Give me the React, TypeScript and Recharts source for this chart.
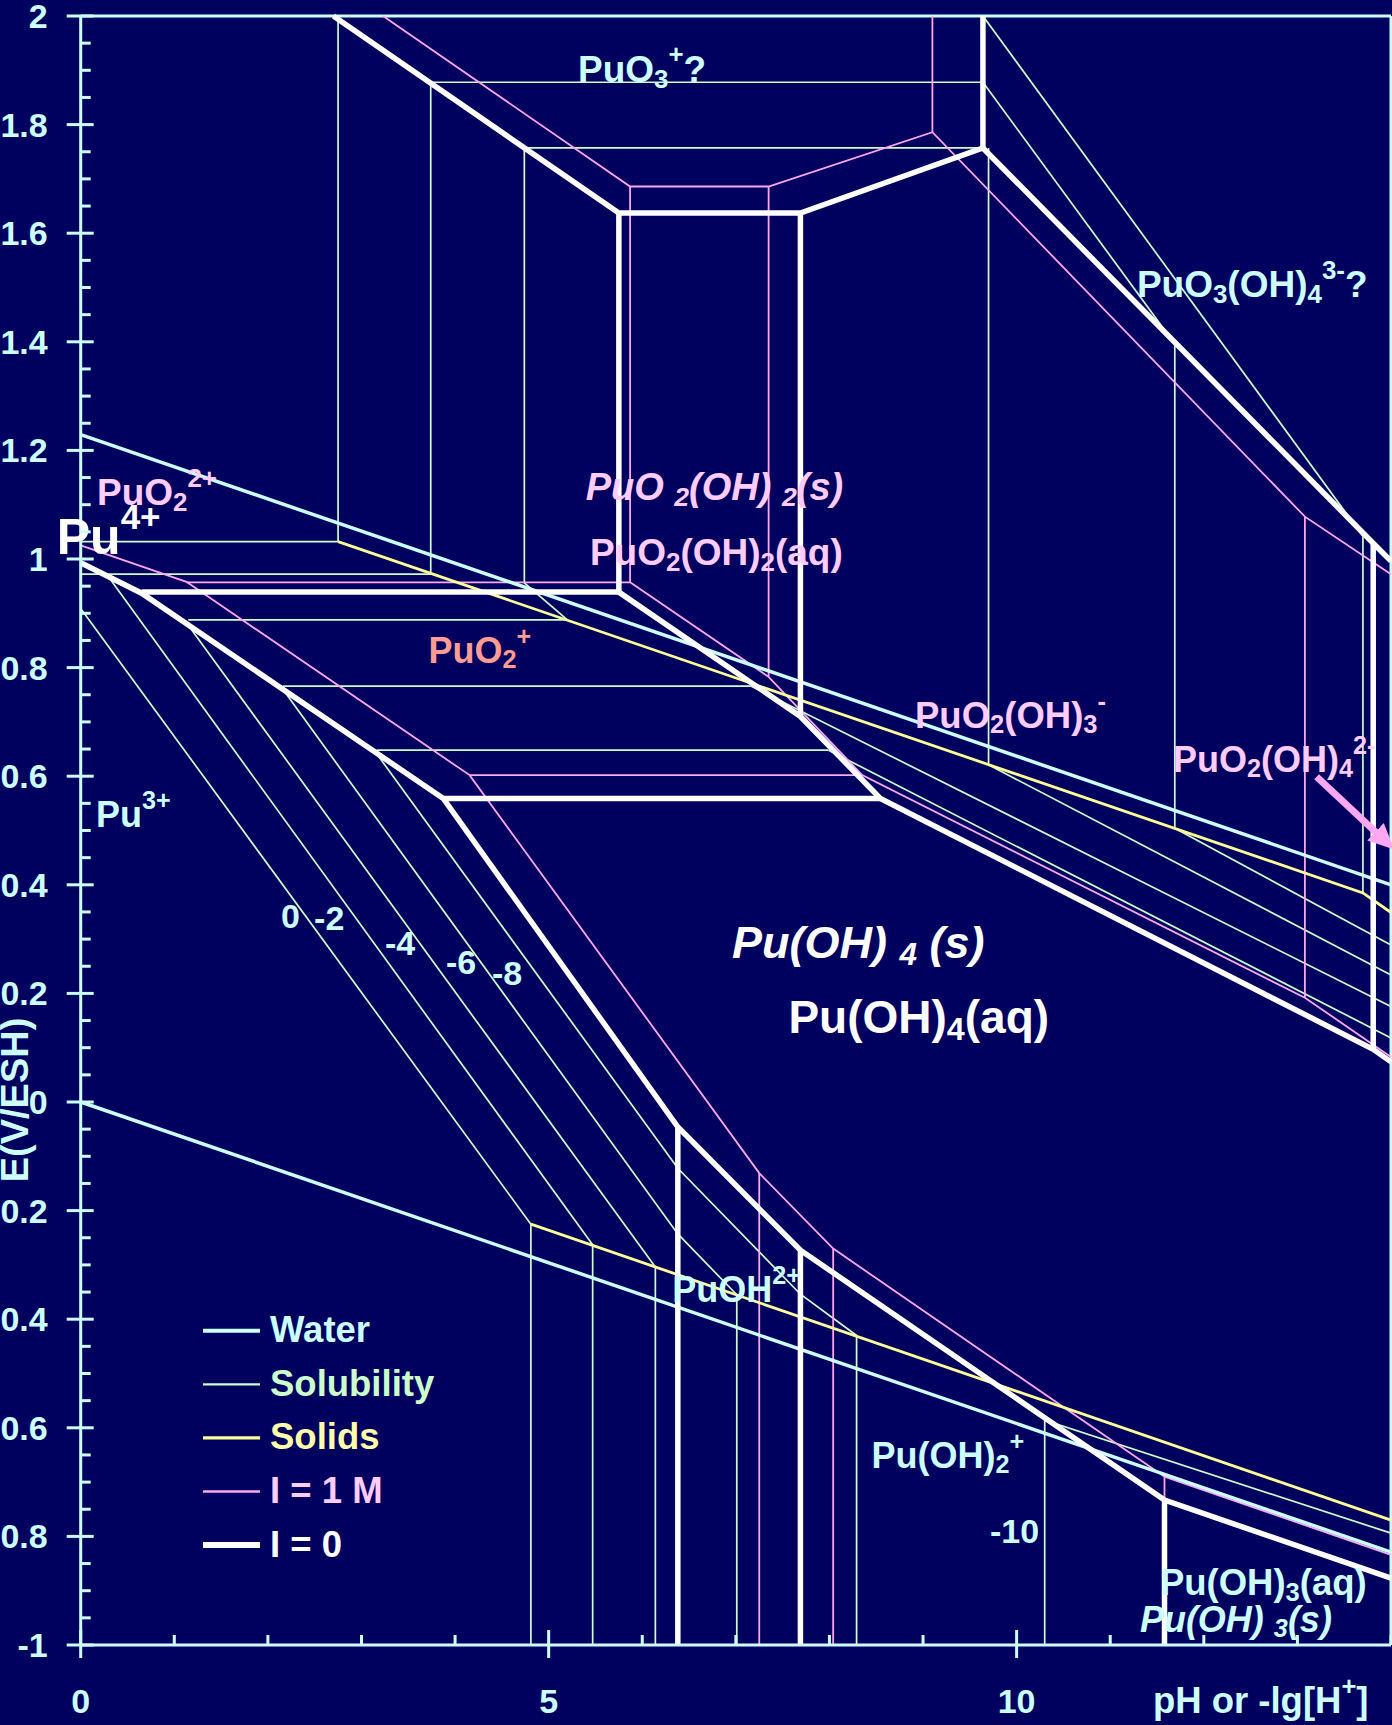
import React from 'react';
import { LineChart, Line, XAxis, YAxis, ReferenceLine, ReferenceDot, Legend } from 'recharts';

const W = 1392;
const H = 1725;
const BG = '#00005E';
const CYAN = '#CCFFFF';
const GREEN = '#CCFFCC';
const YELLOW = '#FFFF99';
const PINK = '#FFA8F2';
const PINK_TEXT = '#FFCCFF';
const SALMON = '#FF9C94';
const WHITE = '#FFFFFF';
const FONT = '"Liberation Sans", Arial, Helvetica, sans-serif';

// ---------- data (pH, E) ----------
// water stability lines
const WATER_O2 = [[0, 1.229], [14, 0.4]];
const WATER_H2 = [[0, 0], [14, -0.829]];

// I = 0 boundaries
const I0_PU4_PU3 = [[0, 0.993], [0.651, 0.937], [3.874, 0.559], [6.38, -0.046], [7.69, -0.273], [11.58, -0.733], [14, -0.877]];
const I0_PUO2_TOP = [[2.7, 2.0], [5.75, 1.637], [7.69, 1.637], [9.64, 1.757], [13.81, 1.029], [14, 0.996]];
const I0_PUO2_BOTTOM = [[5.75, 0.939], [7.69, 0.71], [8.544, 0.559], [13.81, 0.097], [14, 0.074]];
const I0_H_0939 = [[0.651, 0.939], [5.75, 0.939]];
const I0_H_0559 = [[3.874, 0.559], [8.544, 0.559]];
const I0_V_575 = [[5.75, 1.637], [5.75, 0.939]];
const I0_V_769_TOP = [[7.69, 1.637], [7.69, 0.71]];
const I0_V_964 = [[9.64, 2.0], [9.64, 1.757]];
const I0_V_1381 = [[13.81, 1.029], [13.81, 0.097]];
const I0_V_638 = [[6.38, -0.046], [6.38, -1]];
const I0_V_769_BOT = [[7.69, -0.273], [7.69, -1]];
const I0_V_1158 = [[11.58, -0.733], [11.58, -1]];

// I = 1 M boundaries
const I1_PU4_PU3 = [[0, 1.025], [1.13, 0.958], [4.155, 0.602], [7.25, -0.131], [8.04, -0.27], [11.58, -0.69], [14, -0.834]];
const I1_PUO2_TOP = [[3.23, 2.0], [5.87, 1.686], [7.35, 1.686], [9.1, 1.786], [13.08, 1.078], [14, 0.972]];
const I1_PUO2_BOTTOM = [[5.87, 0.957], [7.35, 0.783], [8.35, 0.602], [13.08, 0.192], [14, 0.083]];
const I1_H_0957 = [[1.13, 0.957], [5.87, 0.957]];
const I1_H_0602 = [[4.155, 0.602], [8.35, 0.602]];
const I1_V_587 = [[5.87, 1.686], [5.87, 0.957]];
const I1_V_735 = [[7.35, 1.686], [7.35, 0.783]];
const I1_V_910 = [[9.1, 2.0], [9.1, 1.786]];
const I1_V_1308 = [[13.08, 1.078], [13.08, 0.192]];
const I1_V_725 = [[7.25, -0.131], [7.25, -1]];
const I1_V_804 = [[8.04, -0.27], [8.04, -1]];
const I1_V_1158 = [[11.58, -0.69], [11.58, -0.733]];
const I1_ARROW = [[13.205, 0.599], [13.85, 0.495]];

// solubility lines (log c = 0 ... -10)
const SOL_H_1032 = [[0, 1.032], [2.75, 1.032]];
const SOL_V_275 = [[2.75, 2.0], [2.75, 1.032]];
const SOL_H_0972 = [[0, 0.972], [3.74, 0.972]];
const SOL_V_374 = [[3.74, 1.878], [3.74, 0.972]];
const SOL_H_1878 = [[3.74, 1.878], [9.64, 1.878]];
const SOL_V_474 = [[4.74, 1.757], [4.74, 0.956], [5.2, 0.888]];
const SOL_H_1757 = [[4.74, 1.757], [9.64, 1.757]];
const SOL_R1 = [[9.64, 2.0], [13.7, 1.042]];
const SOL_R2 = [[9.64, 1.878], [11.69, 1.396]];
const SOL_V_970 = [[9.7, 1.757], [9.7, 0.621]];
const SOL_V_1169 = [[11.69, 1.396], [11.69, 0.504]];
const SOL_V_1370 = [[13.7, 1.042], [13.7, 0.385]];
const SOL_H_0888 = [[1.15, 0.888], [5.2, 0.888]];
const SOL_H_0766 = [[2.16, 0.766], [7.16, 0.766]];
const SOL_H_0648 = [[3.16, 0.648], [7.99, 0.648]];
const SOL_FAN_A = [[7.16, 0.766], [14, 0.176]];
const SOL_FAN_B = [[7.99, 0.648], [14, 0.118]];
const SOL_FAN_C = [[9.7, 0.621], [14, 0.234]];
const SOL_FAN_D = [[11.69, 0.504], [14, 0.289]];
const SOL_L0 = [[0, 0.909], [4.81, -0.225], [4.81, -1]];
const SOL_L2 = [[0.314, 0.963], [5.47, -0.263], [5.47, -1]];
const SOL_L4 = [[1.15, 0.878], [6.14, -0.304], [6.14, -1]];
const SOL_L6 = [[2.16, 0.76], [6.38, -0.243], [7.01, -0.355], [7.01, -1]];
const SOL_L8 = [[3.16, 0.642], [6.38, -0.122], [7.69, -0.354], [8.29, -0.43], [8.29, -1]];
const SOL_L10 = [[14, -0.794], [10.3, -0.586], [10.3, -1]];

// solids
const SOLID_PUO2OH2 = [[2.75, 1.032], [13.7, 0.385], [14, 0.349]];
const SOLID_PUOH3 = [[4.81, -0.225], [14, -0.77]];

// ticks
const Y_MAJOR_TICKS = [-1, -0.8, -0.6, -0.4, -0.2, 0, 0.2, 0.4, 0.6, 0.8, 1, 1.2, 1.4, 1.6, 1.8, 2];
const X_TICKS = [0, 1, 2, 3, 4, 5, 6, 7, 8, 9, 10, 11, 12, 13, 14];
const X_LABELED = [0, 5, 10];

const Y_TICKS: number[] = [];
Y_MAJOR_TICKS.forEach((m, i) => {
  Y_TICKS.push(m);
  if (i < Y_MAJOR_TICKS.length - 1) {
    for (let k = 1; k < 4; k++) Y_TICKS.push(Math.round((m + k * 0.05) * 100) / 100);
  }
});

// ---------- styles ----------
const STYLES: Record<string, { stroke: string; width: number }> = {
  sol: { stroke: GREEN, width: 1.7 },
  i1: { stroke: PINK, width: 1.8 },
  solid: { stroke: YELLOW, width: 2.8 },
  water: { stroke: CYAN, width: 3.5 },
  i0: { stroke: WHITE, width: 5.5 },
};

const SOL_SET = [SOL_H_1032, SOL_V_275, SOL_H_0972, SOL_V_374, SOL_H_1878, SOL_V_474, SOL_H_1757, SOL_R1, SOL_R2,
  SOL_V_970, SOL_V_1169, SOL_V_1370, SOL_H_0888, SOL_H_0766, SOL_H_0648, SOL_FAN_A, SOL_FAN_B, SOL_FAN_C, SOL_FAN_D,
  SOL_L0, SOL_L2, SOL_L4, SOL_L6, SOL_L8, SOL_L10];
const I1_SET = [I1_PU4_PU3, I1_PUO2_TOP, I1_PUO2_BOTTOM, I1_H_0957, I1_H_0602, I1_V_587, I1_V_735, I1_V_910,
  I1_V_1308, I1_V_725, I1_V_804, I1_V_1158];
const SOLID_SET = [SOLID_PUO2OH2, SOLID_PUOH3];
const WATER_SET = [WATER_O2, WATER_H2];
const I0_SET = [I0_PU4_PU3, I0_PUO2_TOP, I0_PUO2_BOTTOM, I0_H_0939, I0_H_0559, I0_V_575, I0_V_769_TOP, I0_V_964,
  I0_V_1381, I0_V_638, I0_V_769_BOT, I0_V_1158];

const SERIES = [
  ...SOL_SET.map((d) => ({ d, kind: 'sol' })),
  ...I1_SET.map((d) => ({ d, kind: 'i1' })),
  ...SOLID_SET.map((d) => ({ d, kind: 'solid' })),
  ...WATER_SET.map((d) => ({ d, kind: 'water' })),
  ...I0_SET.map((d) => ({ d, kind: 'i0' })),
];

const toPts = (arr: number[][]) => arr.map(([x, y]) => ({ x, y }));

// ---------- annotations ----------
type Part = [string, string?];
type Lab = { x: number; y: number; size: number; color: string; italic?: boolean; parts: Part[]; rotate?: boolean; anchor?: string };

const LABELS: Lab[] = [
  { x: 5.313, y: 1.8785, size: 37, color: CYAN, parts: [['PuO'], ['3', 'sub'], ['+', 'sup'], ['?']] },
  { x: 11.285, y: 1.4825, size: 37, color: CYAN, parts: [['PuO'], ['3', 'sub'], ['(OH)'], ['4', 'sub'], ['3-', 'sup'], ['?']] },
  { x: 0.174, y: 1.0994, size: 37, color: PINK_TEXT, parts: [['PuO'], ['2', 'sub'], ['2+', 'sup']] },
  { x: -0.256, y: 1.0092, size: 50, color: WHITE, parts: [['Pu'], ['4+', 'sup']] },
  { x: 5.395, y: 1.1087, size: 38, color: PINK_TEXT, italic: true, parts: [['PuO '], ['2', 'sub'], ['(OH) '], ['2', 'sub'], ['(s)']] },
  { x: 5.441, y: 0.989, size: 37, color: PINK_TEXT, parts: [['PuO'], ['2', 'sub'], ['(OH)'], ['2', 'sub'], ['(aq)']] },
  { x: 3.717, y: 0.8085, size: 36, color: SALMON, parts: [['PuO'], ['2', 'sub'], ['+', 'sup']] },
  { x: 8.914, y: 0.6888, size: 36.5, color: PINK_TEXT, parts: [['PuO'], ['2', 'sub'], ['(OH)'], ['3', 'sub'], ['-', 'sup']] },
  { x: 11.67, y: 0.6077, size: 36, color: PINK_TEXT, parts: [['PuO'], ['2', 'sub'], ['(OH)'], ['4', 'sub'], ['2-', 'sup']] },
  { x: 0.163, y: 0.507, size: 36, color: CYAN, parts: [['Pu'], ['3+', 'sup']] },
  { x: 2.14, y: 0.3204, size: 34, color: CYAN, parts: [['0']] },
  { x: 2.494, y: 0.3168, size: 34, color: CYAN, parts: [['-2']] },
  { x: 3.251, y: 0.2707, size: 34, color: CYAN, parts: [['-4']] },
  { x: 3.903, y: 0.2357, size: 34, color: CYAN, parts: [['-6']] },
  { x: 4.394, y: 0.2155, size: 34, color: CYAN, parts: [['-8']] },
  { x: 9.715, y: -0.812, size: 34, color: CYAN, parts: [['-10']] },
  { x: 6.96, y: 0.265, size: 45, color: WHITE, italic: true, parts: [['Pu(OH) '], ['4', 'sub'], [' (s)']] },
  { x: 7.562, y: 0.127, size: 46, color: WHITE, parts: [['Pu(OH)'], ['4', 'sub'], ['(aq)']] },
  { x: 6.321, y: -0.3677, size: 36, color: CYAN, parts: [['PuOH'], ['2+', 'sup']] },
  { x: 8.449, y: -0.674, size: 36, color: CYAN, parts: [['Pu(OH)'], ['2', 'sub'], ['+', 'sup']] },
  { x: 11.531, y: -0.908, size: 36.5, color: CYAN, parts: [['Pu(OH)'], ['3', 'sub'], ['(aq)']] },
  { x: 11.317, y: -0.9755, size: 36, color: CYAN, italic: true, parts: [['Pu(OH) '], ['3', 'sub'], ['(s)']] },
  { x: 11.456, y: -1.125, size: 36.5, color: CYAN, parts: [['pH or -lg[H'], ['+', 'sup'], [']']] },
  { x: -0.56, y: 0.0037, size: 38, color: CYAN, rotate: true, anchor: 'middle', parts: [['E(V/ESH)']] },
];

const LEGEND_ITEMS = [
  { label: 'Water', kind: 'water', color: CYAN },
  { label: 'Solubility', kind: 'sol', color: GREEN },
  { label: 'Solids', kind: 'solid', color: '#FFFFAA' },
  { label: 'I = 1 M', kind: 'i1', color: PINK_TEXT },
  { label: 'I = 0', kind: 'i0', color: WHITE },
];

function renderParts(parts: Part[], size: number) {
  let cur = 0;
  return parts.map(([t, k], i) => {
    const target = k === 'sub' ? size * 0.15 : k === 'sup' ? -size * 0.5 : 0;
    const dy = target - cur;
    cur = target;
    return (
      <tspan key={i} dy={dy} fontSize={k ? size * 0.7 : size}>
        {t}
      </tspan>
    );
  });
}

const labelShape = (lab: Lab) => (p: any) => {
  const { cx, cy } = p;
  return (
    <text
      x={cx}
      y={cy}
      fill={lab.color}
      fontFamily={FONT}
      fontWeight="bold"
      fontStyle={lab.italic ? 'italic' : 'normal'}
      fontSize={lab.size}
      textAnchor={lab.anchor || 'start'}
      transform={lab.rotate ? `rotate(-90 ${cx} ${cy})` : undefined}
      style={{ whiteSpace: 'pre' }}
    >
      {renderParts(lab.parts, lab.size)}
    </text>
  );
};

const isMajorY = (v: number) => Y_MAJOR_TICKS.some((m) => Math.abs(m - v) < 1e-6);

const YTick = (props: any) => {
  const { x, y, payload } = props;
  const v = payload.value;
  const major = isMajorY(v);
  return (
    <g>
      <line x1={major ? x - 14 : x} x2={major ? x + 13 : x + 10} y1={y} y2={y} stroke={CYAN} strokeWidth={3} />
      {major && (
        <text x={x - 33} y={y + 12} textAnchor="end" fill={CYAN} fontSize={34} fontWeight="bold" fontFamily={FONT}>
          {String(Math.round(v * 100) / 100)}
        </text>
      )}
    </g>
  );
};

const XTick = (props: any) => {
  const { x, y, payload } = props;
  const v = payload.value;
  const major = X_LABELED.includes(v);
  return (
    <g>
      <line x1={x} x2={x} y1={major ? y - 15 : y - 10} y2={major ? y + 13 : y} stroke={CYAN} strokeWidth={3} />
      {major && (
        <text x={x} y={y + 68} textAnchor="middle" fill={CYAN} fontSize={34} fontWeight="bold" fontFamily={FONT}>
          {String(v)}
        </text>
      )}
    </g>
  );
};

const LegendContent = () => (
  <svg width={320} height={280} style={{ overflow: 'visible' }}>
    {LEGEND_ITEMS.map((it, i) => {
      const ly = 30.7 + i * 53.6;
      const st = STYLES[it.kind];
      return (
        <g key={it.label}>
          <line x1={13} x2={70} y1={ly} y2={ly} stroke={st.stroke} strokeWidth={it.kind === 'i0' ? 6 : st.width + 0.5} />
          <text x={80} y={ly + 11.5} fill={it.color} fontSize={36.5} fontWeight="bold" fontFamily={FONT}>
            {it.label}
          </text>
        </g>
      );
    })}
  </svg>
);

export default function App() {
  return (
    <div style={{ width: W, height: H, background: BG, position: 'relative', overflow: 'hidden' }}>
      <style>{'body{margin:0;background:#00005E;}'}</style>
      <svg width={0} height={0} style={{ position: 'absolute' }}>
        <defs>
          <marker id="pinkArrowHead" markerUnits="userSpaceOnUse" markerWidth={30} markerHeight={30} refX={2} refY={14} orient="auto">
            <path d="M0,2 L26,14 L0,26 Z" fill={PINK} />
          </marker>
        </defs>
      </svg>
      <LineChart width={W} height={H} margin={{ top: 16, right: 1, bottom: 0, left: 0 }}>
        <XAxis
          type="number"
          dataKey="x"
          domain={[0, 14]}
          ticks={X_TICKS}
          interval={0}
          height={80}
          tickSize={0}
          tickMargin={0}
          tickLine={false}
          tick={<XTick />}
          axisLine={{ stroke: CYAN, strokeWidth: 3 }}
        />
        <YAxis
          type="number"
          dataKey="y"
          domain={[-1, 2]}
          ticks={Y_TICKS}
          interval={0}
          width={80.7}
          tickSize={0}
          tickMargin={0}
          tickLine={false}
          tick={<YTick />}
          axisLine={{ stroke: CYAN, strokeWidth: 3 }}
        />
        <ReferenceLine y={2} stroke={CYAN} strokeWidth={3} />
        <ReferenceLine x={14} stroke={CYAN} strokeWidth={3} />
        {SERIES.map((s, i) => (
          <Line
            key={i}
            data={toPts(s.d)}
            dataKey="y"
            type="linear"
            stroke={STYLES[s.kind].stroke}
            strokeWidth={STYLES[s.kind].width}
            dot={false}
            activeDot={false}
            isAnimationActive={false}
            legendType="none"
          />
        ))}
        <Line
          data={toPts(I1_ARROW)}
          dataKey="y"
          type="linear"
          stroke={PINK}
          strokeWidth={7}
          dot={false}
          activeDot={false}
          isAnimationActive={false}
          legendType="none"
          markerEnd="url(#pinkArrowHead)"
        />
        {LABELS.map((lab, i) => (
          <ReferenceDot key={'l' + i} x={lab.x} y={lab.y} r={0} ifOverflow="visible" shape={labelShape(lab)} />
        ))}
        <Legend
          content={LegendContent}
          layout="horizontal"
          verticalAlign="middle"
          align="center"
          wrapperStyle={{ position: 'absolute', left: 190, top: 1300, width: 320, height: 280 }}
        />
      </LineChart>
    </div>
  );
}
